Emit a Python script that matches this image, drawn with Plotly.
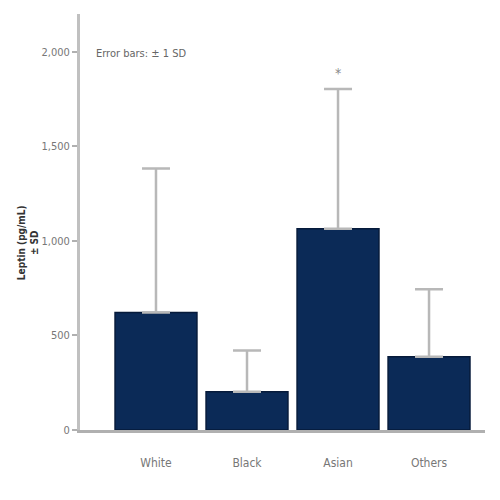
import plotly.graph_objects as go

categories = ["White", "Black", "Asian", "Others"]
means = [622, 202, 1064, 388]
sd = [761, 218, 739, 357]
yticks = [0, 500, 1000, 1500, 2000]
ytick_labels = ["0", "500", "1,000", "1,500", "2,000"]

FONT = "Liberation Sans Narrow, DejaVu Sans Condensed, Arial Narrow, Roboto, sans-serif"

fig = go.Figure()
fig.add_trace(go.Bar(
    x=list(range(len(categories))), y=means, width=0.9,
    marker=dict(color="#0b2a57", line=dict(color="#061a3a", width=1.5)),
    error_y=dict(type="data", array=sd, arrayminus=[0]*len(sd), symmetric=False,
                 color="#b8b8b8", thickness=2.5, width=14),
    showlegend=False,
))

fig.add_annotation(x=2, y=means[2] + sd[2], yref="y", text="*", showarrow=False,
                   yshift=16, font=dict(family=FONT, size=14, color="#888888"))
fig.add_annotation(xref="paper", yref="paper", x=0.035, y=0.905, xanchor="left", yanchor="middle",
                   text="Error bars: ± 1 SD", showarrow=False,
                   font=dict(family=FONT, size=11, color="#666666"))
fig.add_annotation(xref="paper", yref="paper", x=-0.13, y=0.45, xanchor="center", yanchor="middle",
                   text="<b>Leptin (pg/mL)<br>± SD</b>", showarrow=False, textangle=-90,
                   font=dict(family=FONT, size=10, color="#333333"))

fig.update_layout(
    width=500, height=500,
    margin=dict(l=72, r=23, t=6, b=78),
    plot_bgcolor="white", paper_bgcolor="white",
    font=dict(family=FONT, color="#777777", size=12),
    bargap=0.1,
)
fig.update_xaxes(
    range=[-0.835, 3.615], tickvals=list(range(len(categories))), ticktext=categories,
    showline=True, linecolor="#b0b0b0", linewidth=3, ticks="", showgrid=False,
    zeroline=False, tickfont=dict(family=FONT, size=12, color="#777777"), ticklabelstandoff=20,
    automargin=False,
)
fig.update_yaxes(
    range=[0, 2200], tickvals=yticks, ticktext=ytick_labels,
    showline=True, linecolor="#c0c0c0", linewidth=3, ticks="outside", ticklen=5,
    tickcolor="#b0b0b0", tickwidth=2, showgrid=False, zeroline=False,
    tickfont=dict(family=FONT, size=11, color="#777777"), automargin=False,
)
fig.write_html("out.html")
